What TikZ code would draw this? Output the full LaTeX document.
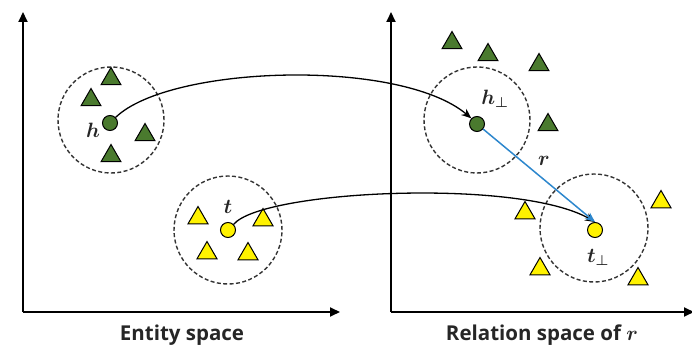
\documentclass[tikz,border=0pt]{standalone}
\usepackage{fontspec}
\usepackage{amsmath}
\usepackage{bm}
\setsansfont{Open Sans}
\usetikzlibrary{arrows.meta,shapes.geometric}
\definecolor{gfill}{RGB}{74,122,46}
\definecolor{yfill}{RGB}{255,242,0}
\definecolor{rblue}{RGB}{45,135,205}
\tikzset{
  axis/.style={line width=1.8pt,-{Triangle[length=10pt,width=9pt]}},
  cluster/.style={circle,draw,dash pattern=on 4pt off 2.4pt,line width=1.4pt,draw=black!80},
  tri/.style={regular polygon,regular polygon sides=3,draw,line width=1pt,minimum size=23pt,inner sep=0pt},
  gtri/.style={tri,fill=gfill},
  ytri/.style={tri,fill=yfill},
  dot/.style={circle,draw,line width=1pt,minimum size=15pt,inner sep=0pt},
  map/.style={line width=1.3pt,-{Stealth[length=10pt,width=8pt]}},
  lbl/.style={font=\sffamily\bfseries\fontsize{20.5}{24}\selectfont,anchor=base,text=black!85},
  sym/.style={font=\fontsize{22}{24}\selectfont,text=black!85}
}
\begin{document}
\begin{tikzpicture}[x=1pt,y=-1pt]
\useasboundingbox (0,0) rectangle (692,347);
% axes
\coordinate (o1) at (23,312);
\coordinate (y1) at (23,12);
\coordinate (x1) at (340,312);
\coordinate (o2) at (391,312);
\coordinate (y2) at (391,12);
\coordinate (x2) at (694,312);
\draw[axis] (o1) -- (y1);
\draw[axis] (o1) -- (x1);
\draw[axis] (o2) -- (y2);
\draw[axis] (o2) -- (x2);
\node[lbl] (el) at (182,340) {Entity space};
\node[lbl] (rl) at (542,340) {Relation space of $\bm{r}$};
% clusters
\node[cluster,minimum size=106pt] (hc) at (111,120) {};
\node[cluster,minimum size=108pt] (tc) at (228,230) {};
\node[cluster,minimum size=106pt] (hpc) at (477,120) {};
\node[cluster,minimum size=108pt] (tpc) at (594,228) {};
% green triangles
\node[gtri] (g1) at (111,79) {};
\node[gtri] (g2) at (91,100) {};
\node[gtri] (g3) at (145,135) {};
\node[gtri] (g4) at (111,156) {};
\node[gtri] (g5) at (452,43) {};
\node[gtri] (g6) at (488,55) {};
\node[gtri] (g7) at (539,65) {};
\node[gtri] (g8) at (548,125) {};
% yellow triangles
\node[ytri] (y1t) at (198,218) {};
\node[ytri] (y2t) at (263,220) {};
\node[ytri] (y3t) at (207,253) {};
\node[ytri] (y4t) at (248,254) {};
\node[ytri] (y5t) at (525,213) {};
\node[ytri] (y6t) at (661,202) {};
\node[ytri] (y7t) at (540,269) {};
\node[ytri] (y8t) at (638,279) {};
% dots
\node[dot,fill=gfill] (h) at (110,123) {};
\node[dot,fill=yfill] (t) at (228,230) {};
\node[dot,fill=gfill] (hp) at (477,124) {};
\node[dot,fill=yfill] (tp) at (595,230) {};
% symbol labels
\node[sym] (hl) at (93,130) {$\bm{h}$};
\node[sym] (tl) at (228,207) {$\bm{t}$};
\node[sym] (hpl) at (495,99) {$\bm{h}_{\bm{\perp}}$};
\node[sym] (tpl) at (598,257) {$\bm{t}_{\bm{\perp}}$};
\node[sym] (rlab) at (544,161) {$\bm{r}$};
% mapping arrows
\draw[map] (h.north east) .. controls (170,65) and (400,58) .. (hp.north west);
\draw[map] (t.north east) .. controls (262,190) and (520,178) .. (tp.north);
\draw[line width=1.5pt,rblue,-{Stealth[length=10pt,width=8pt]}] (hp) -- (tp.north);
\end{tikzpicture}
\end{document}
